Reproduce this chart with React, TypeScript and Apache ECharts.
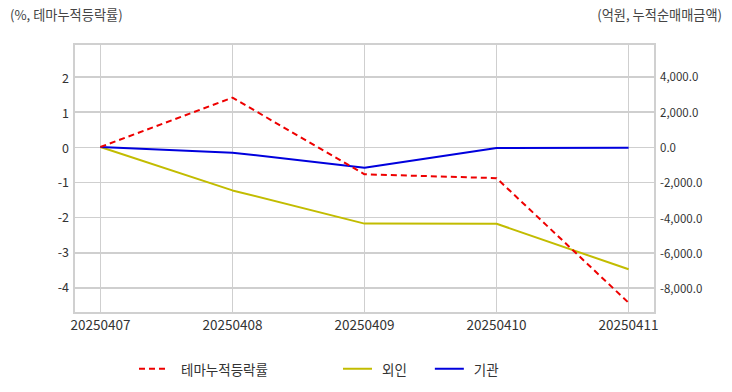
import React, { useEffect, useRef } from "react";
import * as echarts from "echarts";

const dates = ["20250407", "20250408", "20250409", "20250410", "20250411"];
const themeRate = [0, 1.41, -0.78, -0.89, -4.45];
const foreign = [0, -2460, -4340, -4350, -6930];
const institution = [0, -320, -1170, -60, -40];
const leftTicks = [-4, -3, -2, -1, 0, 1, 2];
const rightTicks = [-8000, -6000, -4000, -2000, 0, 2000, 4000];
const xTicks = [0, 1, 2, 3, 4];

const FONT = "'Noto Sans CJK KR', sans-serif";

export default function App() {
  const ref = useRef<HTMLDivElement>(null);
  useEffect(() => {
    document.body.style.margin = "0";
    const chart = echarts.init(ref.current!, null, { renderer: "svg" });
    const grid = "#cfcfcf";
    const legendText = { fontSize: 13.5, fontFamily: FONT, color: "#333" };
    chart.setOption({
      animation: false,
      grid: {
        left: 74,
        right: 77,
        top: 44,
        bottom: 79,
        show: true,
        borderColor: "#d0d0d0",
        borderWidth: 2,
      },
      graphic: [
        {
          type: "text",
          left: 10,
          top: 8,
          style: { text: "(%, 테마누적등락률)", fontSize: 13.2, fontFamily: FONT, fill: "#444" },
        },
        {
          type: "text",
          right: 10,
          top: 8,
          style: { text: "(억원, 누적순매매금액)", fontSize: 13.2, fontFamily: FONT, fill: "#444" },
        },
      ],
      legend: [
        {
          data: ["테마누적등락률"],
          left: 138,
          top: 362,
          padding: 0,
          itemWidth: 29,
          itemHeight: 14,
          itemStyle: { opacity: 0 },
          textStyle: { ...legendText, padding: [0, 0, 0, 8] },
        },
        {
          data: ["외인", "기관"],
          left: 342,
          top: 362,
          padding: 0,
          itemWidth: 29,
          itemHeight: 14,
          itemGap: 27,
          itemStyle: { opacity: 0 },
          textStyle: { ...legendText, padding: [0, 0, 0, 5] },
        },
      ],
      xAxis: {
        type: "value",
        min: -0.2,
        max: 4.2,
        axisLine: { show: false },
        axisTick: { show: false, customValues: xTicks },
        axisLabel: {
          customValues: xTicks,
          formatter: (v: number) => dates[Math.round(v)],
          fontSize: 13.5,
          fontFamily: FONT,
          color: "#333",
          margin: 4,
        },
        splitLine: { show: true, lineStyle: { color: grid, width: 1 } },
      },
      yAxis: [
        {
          type: "value",
          min: -4.743,
          max: 2.943,
          axisLine: { show: false },
          axisTick: { show: false, customValues: leftTicks },
          axisLabel: {
            customValues: leftTicks,
            fontSize: 12.5,
            fontFamily: FONT,
            color: "#333",
            margin: 5,
          },
          splitLine: { show: true, lineStyle: { color: grid, width: 1 } },
        },
        {
          type: "value",
          min: -9405,
          max: 5836,
          position: "right",
          axisLine: { show: false },
          axisTick: { show: false, customValues: rightTicks },
          axisLabel: {
            customValues: rightTicks,
            formatter: (v: number) =>
              v.toLocaleString("en-US", { minimumFractionDigits: 1, maximumFractionDigits: 1 }),
            fontSize: 11.5,
            fontFamily: FONT,
            color: "#333",
            margin: 5,
          },
          splitLine: { show: true, lineStyle: { color: grid, width: 1 } },
        },
      ],
      series: [
        {
          name: "테마누적등락률",
          type: "line",
          yAxisIndex: 0,
          symbol: "none",
          data: themeRate.map((v, i) => [i, v]),
          itemStyle: { color: "#ee0000" },
          lineStyle: { color: "#ee0000", width: 2, type: [6, 4] },
          z: 3,
        },
        {
          name: "외인",
          type: "line",
          yAxisIndex: 1,
          symbol: "none",
          data: foreign.map((v, i) => [i, v]),
          itemStyle: { color: "#c2bc00" },
          lineStyle: { color: "#c2bc00", width: 2 },
          z: 2,
        },
        {
          name: "기관",
          type: "line",
          yAxisIndex: 1,
          symbol: "none",
          data: institution.map((v, i) => [i, v]),
          itemStyle: { color: "#0000dd" },
          lineStyle: { color: "#0000dd", width: 2 },
          z: 2,
        },
      ],
    });
    return () => chart.dispose();
  }, []);
  return <div ref={ref} style={{ width: 732, height: 392 }} />;
}
